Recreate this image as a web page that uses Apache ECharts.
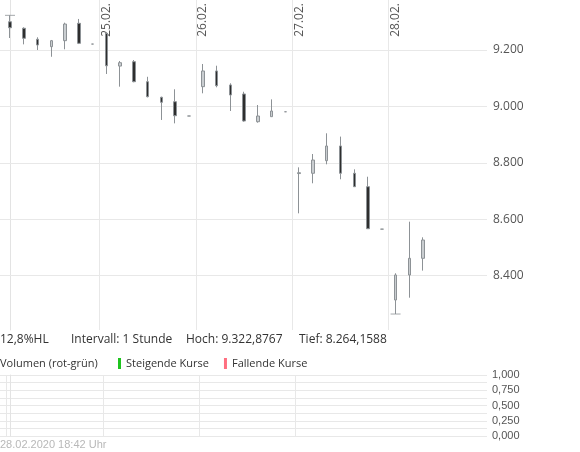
<!DOCTYPE html>
<html><head><meta charset="utf-8">
<script src="https://cdn.jsdelivr.net/npm/echarts@6/dist/echarts.min.js"></script>
<style>html,body{margin:0;padding:0;background:#fff}#c{width:580px;height:452px}</style>
</head><body><div id="c"></div>
<script>
// hourly slots (7 per trading day, 24.02. - 28.02.2020)
const slots = [0,1,2,3,4,5,6, 7,8,9,10,11,12,13, 14,15,16,17,18,19,20, 21,22,23,24,25,26,27, 28,29,30];
const openV  = [9300,9277,9238,9211.7,9233,9294.6,9221, 9259,9143,9158.5,9087.6,9032.3,9016.7,8966, 9070,9125.6,9076,9044,8945.8,8963.6,8981, 8762,8763,8807.6,8859.7,8763,8715.4,8565, 8313.8,8402.5,8461.6];
const closeV = [9279,9241.5,9217.7,9233,9292,9223.7,9221, 9144,9155,9087.6,9034.5,9014.6,8967,8966, 9125.6,9073.5,9040.5,8948.3,8966,8983.8,8981, 8765,8810,8859.7,8763,8715.4,8566.5,8565, 8402.5,8461.6,8526.5];
const lowV   = [9242.5,9220,9200,9176,9202.5,9221,9221, 9115,9070,9085.5,9032,8952,8940,8966, 9046.5,9067.8,8983.8,8945.8,8942.3,8963.6,8981, 8621,8727.5,8794.8,8741.7,8715.4,8566.5,8565, 8264.1588,8322,8418];
const highV  = [9322.8767,9280.5,9245,9235.5,9296.8,9310,9221, 9262.7,9161,9164.5,9105,9034.5,9060.7,8966, 9150.4,9144.3,9082,9052,9005,9025,8981, 8784,8831.3,8904.7,8893,8777,8750.8,8565, 8408.5,8591.4,8536];

const dayLabels = ['25.02.', '26.02.', '27.02.', '28.02.'];
const dayStartSlots = [7, 14, 21, 28];
const yTicks = [8400, 8600, 8800, 9000, 9200];
const volTicks = [0, 0.25, 0.5, 0.75, 1];

const hoch = {slot: 0, value: 9322.8767};
const tief = {slot: 28, value: 8264.1588};
const infoTexts = ['12,8%HL', 'Intervall: 1 Stunde', 'Hoch: 9.322,8767', 'Tief: 8.264,1588'];
const volTitle = 'Volumen (rot-grün)';
const legendNames = ['Steigende Kurse', 'Fallende Kurse'];
const footer = '28.02.2020 18:42 Uhr';

const fmtDE = v => String(v).replace(/\B(?=(\d{3})+(?!\d))/g, '.');
const GRID = '#e8e8e8';
const FONT = '"Open Sans", sans-serif';

const candleData = slots.map((s, i) => [s, openV[i], closeV[i], lowV[i], highV[i]]);
const dayLines = dayStartSlots.map((s, k) => ({
  xAxis: s - 0.5, name: dayLabels[k],
  label: {show: true, formatter: '{b}', position: 'insideEndBottom', distance: [3, 1],
          color: '#555', fontSize: 12, fontFamily: FONT}
}));
const hLines = yTicks.map(v => ({yAxis: v}));

const chart = echarts.init(document.getElementById('c'), null, {renderer: 'canvas'});
chart.setOption({
  animation: false,
  backgroundColor: '#fff',
  grid: [
    {left: 0, top: 0, width: 487, height: 330},
    {left: 0, top: 375, width: 487, height: 61}
  ],
  xAxis: [
    {type: 'value', gridIndex: 0, min: -0.726, max: 34.64, show: false},
    {type: 'value', gridIndex: 1, min: -0.726, max: 34.64, show: false}
  ],
  yAxis: [
    {type: 'value', gridIndex: 0, position: 'right', min: 8207.5, max: 9377.2, scale: true,
     axisLine: {show: true, lineStyle: {color: '#e3e3e3'}}, axisTick: {show: false},
     splitLine: {show: false},
     axisLabel: {customValues: yTicks, formatter: v => fmtDE(v), margin: 6, color: '#555', fontSize: 12, fontFamily: FONT}},
    {type: 'value', gridIndex: 1, position: 'right', min: 0, max: 1, interval: 0.125,
     axisLine: {show: true, lineStyle: {color: '#e3e3e3'}}, axisTick: {show: false},
     splitLine: {show: true, lineStyle: {color: GRID}},
     axisLabel: {margin: 5, color: '#555', fontSize: 11, fontFamily: '"Liberation Sans", Arial, sans-serif',
       formatter: v => volTicks.some(t => Math.abs(t - v) < 1e-9) ? v.toFixed(3).replace('.', ',') : ''}}
  ],
  legend: {
    left: 118, top: 358, padding: 0, itemWidth: 3, itemHeight: 11, itemGap: 15, icon: 'rect',
    selectedMode: false, data: legendNames,
    textStyle: {fontFamily: FONT, fontSize: 11, color: '#333'}
  },
  graphic: [
    {type: 'text', x: 0,   y: 340, style: {text: infoTexts[0], font: '12px ' + FONT, fill: '#333', verticalAlign: 'middle'}},
    {type: 'text', x: 71,  y: 340, style: {text: infoTexts[1], font: '12px ' + FONT, fill: '#333', verticalAlign: 'middle'}},
    {type: 'text', x: 186, y: 340, style: {text: infoTexts[2], font: '12px ' + FONT, fill: '#333', verticalAlign: 'middle'}},
    {type: 'text', x: 299, y: 340, style: {text: infoTexts[3], font: '12px ' + FONT, fill: '#333', verticalAlign: 'middle'}},
    {type: 'text', x: 0,   y: 364, style: {text: volTitle, font: '11px ' + FONT, fill: '#333', verticalAlign: 'middle'}},
    {type: 'text', x: 0,   y: 445, style: {text: footer, font: '11px "Liberation Sans", Arial, sans-serif', fill: '#b8b8b8', verticalAlign: 'middle'}}
  ],
  series: [
    {
      type: 'candlestick', xAxisIndex: 0, yAxisIndex: 0, z: 3,
      data: candleData, encode: {x: 0, y: [1, 2, 3, 4]},
      barWidth: 3,
      itemStyle: {color: '#c9cdd0', color0: '#2e2e2e', borderColor: '#8d9296', borderColor0: '#8d9296', borderWidth: 1},
      markLine: {
        silent: true, symbol: 'none', z: 1, animation: false,
        lineStyle: {type: 'solid', color: GRID, width: 1},
        label: {show: false},
        emphasis: {disabled: true},
        data: dayLines.concat(hLines)
      }
    },
    {
      type: 'scatter', xAxisIndex: 0, yAxisIndex: 0, z: 4, silent: true,
      symbol: 'rect', symbolSize: [10, 1],
      itemStyle: {color: '#8d9296'},
      data: [[hoch.slot, hoch.value], [tief.slot, tief.value]]
    },
    {
      type: 'bar', name: legendNames[0], xAxisIndex: 1, yAxisIndex: 1, data: [],
      itemStyle: {color: '#1fc41f'},
      markLine: {
        silent: true, symbol: 'none', z: 1, animation: false,
        lineStyle: {type: 'solid', color: GRID, width: 1}, label: {show: false},
        data: dayStartSlots.map(s => ({xAxis: s - 0.5}))
      }
    },
    {
      type: 'bar', name: legendNames[1], xAxisIndex: 1, yAxisIndex: 1, data: [],
      itemStyle: {color: '#ff6f80'}
    }
  ]
});
</script>
</body></html>
